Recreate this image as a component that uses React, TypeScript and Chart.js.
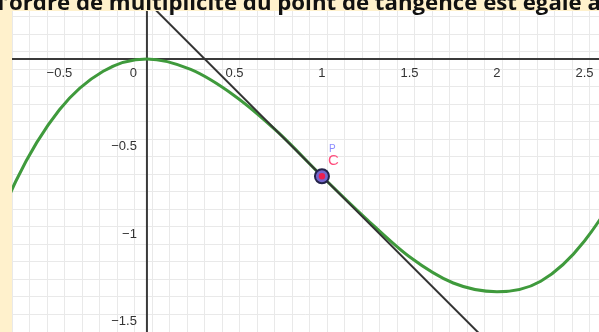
import { useEffect, useRef } from "react";
import { Chart, registerables } from "chart.js";

Chart.register(...registerables);

// Heading (only its lower edge shows above the graph)
const TITLE = "l’ordre de multiplicité du point de tangence est égale à";

// Green curve, sampled every 0.25
const curveX = [-1, -0.75, -0.5, -0.25, 0, 0.25, 0.5, 0.75, 1, 1.25, 1.5, 1.75, 2, 2.25, 2.5, 2.75, 3];
const curveY = [-1.33, -0.7, -0.29, -0.07, 0, -0.06, -0.21, -0.42, -0.67, -0.91, -1.13, -1.28, -1.33, -1.27, -1.04, -0.63, 0];

// Tangent line through the point of contact
const tangentX = [-0.2, 2.2];
const tangentY = [0.53, -1.87];

// Point of tangency
const contactX = [1];
const contactY = [-0.67];

// Axis graduations
const xTickValues = [-0.5, 0, 0.5, 1, 1.5, 2, 2.5];
const xTickLabels = ["−0.5", "0", "0.5", "1", "1.5", "2", "2.5"];
const yTickValues = [-0.5, -1, -1.5];
const yTickLabels = ["−0.5", "−1", "−1.5"];

// Visible window
const X_MIN = -0.771;
const X_MAX = 2.583;
const Y_MIN = -1.56;
const Y_MAX = 0.274;

const toPoints = (xs: number[], ys: number[]) => xs.map((x, i) => ({ x, y: ys[i] }));

const isMajor = (v: number) => Math.abs(v / 0.5 - Math.round(v / 0.5)) < 1e-6;

const gridColor = (c: any) => (c.tick && isMajor(c.tick.value) ? "#c6c6c6" : "#e9e9e9");
const gridWidth = (c: any) => (c.tick && isMajor(c.tick.value) ? 1.5 : 1);

const decor = {
  id: "decor",
  beforeDraw(chart: any) {
    const { ctx, chartArea: a } = chart;
    ctx.save();
    ctx.fillStyle = "#fff1cc";
    ctx.fillRect(0, 0, chart.width, chart.height);
    ctx.fillStyle = "#ffffff";
    ctx.fillRect(a.left, a.top, a.right - a.left, a.bottom - a.top);
    ctx.restore();
  },
  beforeDatasetsDraw(chart: any) {
    const { ctx, chartArea: a, scales } = chart;
    const x0 = scales.x.getPixelForValue(0);
    const y0 = scales.y.getPixelForValue(0);
    ctx.save();
    ctx.strokeStyle = "#3a3a3a";
    ctx.lineWidth = 2;
    ctx.beginPath();
    ctx.moveTo(x0, a.top);
    ctx.lineTo(x0, a.bottom);
    ctx.moveTo(a.left, y0);
    ctx.lineTo(a.right, y0);
    ctx.stroke();

    // graduation labels
    ctx.fillStyle = "#333333";
    ctx.font = '13px "Liberation Sans", Arial, sans-serif';
    ctx.textBaseline = "middle";
    xTickValues.forEach((v, i) => {
      const px = scales.x.getPixelForValue(v);
      if (v === 0) {
        ctx.textAlign = "right";
        ctx.fillText(xTickLabels[i], x0 - 10, y0 + 14);
      } else {
        ctx.textAlign = "center";
        ctx.fillText(xTickLabels[i], px, y0 + 14);
      }
    });
    ctx.textAlign = "right";
    yTickValues.forEach((v, i) => {
      ctx.fillText(yTickLabels[i], x0 - 10, scales.y.getPixelForValue(v));
    });
    ctx.restore();
  },
  afterDraw(chart: any) {
    const { ctx, scales } = chart;
    ctx.save();
    // point names
    const px = scales.x.getPixelForValue(contactX[0]);
    const py = scales.y.getPixelForValue(contactY[0]);
    ctx.textAlign = "left";
    ctx.textBaseline = "alphabetic";
    ctx.fillStyle = "#8c8cff";
    ctx.font = '10px "Liberation Sans", Arial, sans-serif';
    ctx.fillText("P", px + 7, py - 24);
    ctx.fillStyle = "#ff4f7e";
    ctx.font = '15px "Liberation Sans", Arial, sans-serif';
    ctx.fillText("C", px + 6, py - 11);

    // heading, fitted to its line
    ctx.fillStyle = "#111111";
    ctx.font = 'bold 22px "Open Sans", sans-serif';
    const head = "l’";
    const rest = TITLE.slice(head.length);
    const scale = 592 / ctx.measureText(rest).width;
    const size = 22 * scale;
    ctx.font = `bold ${size.toFixed(2)}px "Open Sans", sans-serif`;
    const startX = 9 - ctx.measureText(head).width;
    ctx.fillText(TITLE, startX, 9.5);
    ctx.restore();
  },
};

export default function App() {
  const ref = useRef<HTMLCanvasElement | null>(null);

  useEffect(() => {
    if (!ref.current) return;
    // datasets listed top-most first
    const chart = new Chart(ref.current, {
      type: "line",
      data: {
        datasets: [
          {
            data: toPoints(contactX, contactY),
            showLine: false,
            pointRadius: 3.2,
            pointBorderWidth: 0,
            pointBackgroundColor: "#ee1f50",
          },
          {
            data: toPoints(contactX, contactY),
            showLine: false,
            pointRadius: 7,
            pointBorderWidth: 2,
            pointBorderColor: "#23234a",
            pointBackgroundColor: "#7466cc",
          },
          {
            data: toPoints(tangentX, tangentY),
            borderColor: "#333333",
            borderWidth: 2,
            pointRadius: 0,
            tension: 0,
          },
          {
            data: toPoints(curveX, curveY),
            borderColor: "#3f9a3c",
            borderWidth: 3,
            pointRadius: 0,
            cubicInterpolationMode: "monotone",
          },
        ],
      },
      options: {
        responsive: false,
        animation: false,
        devicePixelRatio: 1,
        layout: { autoPadding: false, padding: { left: 12, top: 11, right: 0, bottom: 0 } },
        plugins: { legend: { display: false }, tooltip: { enabled: false } },
        scales: {
          x: {
            type: "linear",
            bounds: "data",
            min: X_MIN,
            max: X_MAX,
            ticks: { display: false, stepSize: 0.1, includeBounds: false },
            grid: { color: gridColor, lineWidth: gridWidth, drawTicks: false },
            border: { display: false },
          },
          y: {
            type: "linear",
            bounds: "data",
            min: Y_MIN,
            max: Y_MAX,
            ticks: { display: false, stepSize: 0.1, includeBounds: false },
            grid: { color: gridColor, lineWidth: gridWidth, drawTicks: false },
            border: { display: false },
          },
        },
      },
      plugins: [decor],
    });
    return () => chart.destroy();
  }, []);

  return (
    <div style={{ position: "absolute", left: 0, top: 0, width: 599, height: 332 }}>
      <canvas ref={ref} width={599} height={332} style={{ display: "block" }} />
    </div>
  );
}
